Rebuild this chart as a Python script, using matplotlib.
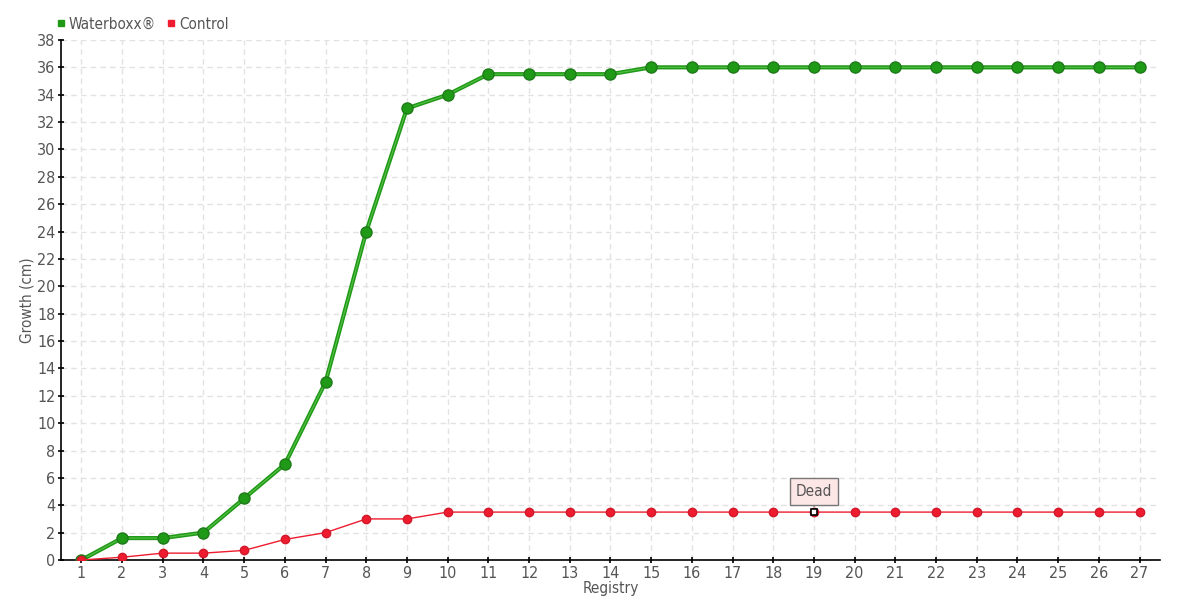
import matplotlib
matplotlib.use("Agg")
import matplotlib.pyplot as plt
from matplotlib.lines import Line2D

plt.rcParams["font.family"] = ["DejaVu Sans"]
plt.rcParams["font.stretch"] = "condensed"

registry = list(range(1, 28))
waterboxx = [0, 1.6, 1.6, 2, 4.5, 7, 13, 24, 33, 34, 35.5, 35.5, 35.5, 35.5,
             36, 36, 36, 36, 36, 36, 36, 36, 36, 36, 36, 36, 36]
control = [0, 0.2, 0.5, 0.5, 0.7, 1.5, 2, 3, 3, 3.5, 3.5, 3.5, 3.5, 3.5,
           3.5, 3.5, 3.5, 3.5, 3.5, 3.5, 3.5, 3.5, 3.5, 3.5, 3.5, 3.5, 3.5]
y_ticks = list(range(0, 39, 2))
dead_idx = 18  # registry 19

GREEN = "#1f9a16"; GREEN_EDGE = "#1f7a1a"; RED = "#ee1c2e"; TXT = "#555555"

fig = plt.figure(figsize=(11.8, 6), dpi=100)
ax = fig.add_axes([0.0517, 0.0667, 0.9313, 0.8667])

ax.plot(registry, waterboxx, color=GREEN, lw=3, zorder=3)
ax.plot(registry, waterboxx, color="#6fcf5f", lw=0.8, alpha=0.7, zorder=3)
ax.plot(registry, waterboxx, ls="none", marker="o", ms=8, mfc=GREEN, mec=GREEN_EDGE, mew=1, zorder=4)
ax.plot(registry, control, color=RED, lw=1, marker="o", ms=6, mfc=RED, mec="#d0192a", zorder=5)

# "Dead" tooltip
ax.plot(registry[dead_idx], control[dead_idx], ls="none", marker="s", ms=4.5, mfc="white", mec="black", mew=1.2, zorder=7)
ax.annotate("Dead", (registry[dead_idx], control[dead_idx]), xytext=(0, 15), textcoords="offset points",
            ha="center", va="center", fontsize=11, color=TXT, zorder=8,
            bbox=dict(boxstyle="square,pad=0.4", fc="#fde6e6", ec="#777777", lw=1),
            arrowprops=dict(arrowstyle="-", color="#777777", lw=1, shrinkA=0, shrinkB=4))

ax.set_xlim(0.5, 27.5)
ax.set_ylim(0, 38)
ax.set_xticks(registry)
ax.set_yticks(y_ticks)
ax.tick_params(axis="both", colors="black", labelcolor=TXT, labelsize=11.5, length=4, width=1.2, direction="inout", pad=2)
ax.grid(True, color="#e2e2e2", ls=(0, (4, 3)), lw=1)
ax.set_axisbelow(True)
for s in ("top", "right"):
    ax.spines[s].set_visible(False)
for s in ("left", "bottom"):
    ax.spines[s].set_linewidth(1.2)
ax.set_xlabel("Registry", fontsize=11, color=TXT, labelpad=0)
ax.set_ylabel("Growth (cm)", fontsize=11, color=TXT, labelpad=2)

handles = [Line2D([], [], ls="none", marker="s", ms=5, mfc=GREEN, mec=GREEN),
           Line2D([], [], ls="none", marker="s", ms=5, mfc=RED, mec=RED)]
fig.legend(handles, ["Waterboxx®", "Control"], loc="upper left", bbox_to_anchor=(0.035, 0.995),
           ncol=2, frameon=False, fontsize=11, handletextpad=0.1, columnspacing=0.6,
           labelcolor=TXT, handlelength=0.8)

fig.savefig("out.png", dpi=100, facecolor="white")
